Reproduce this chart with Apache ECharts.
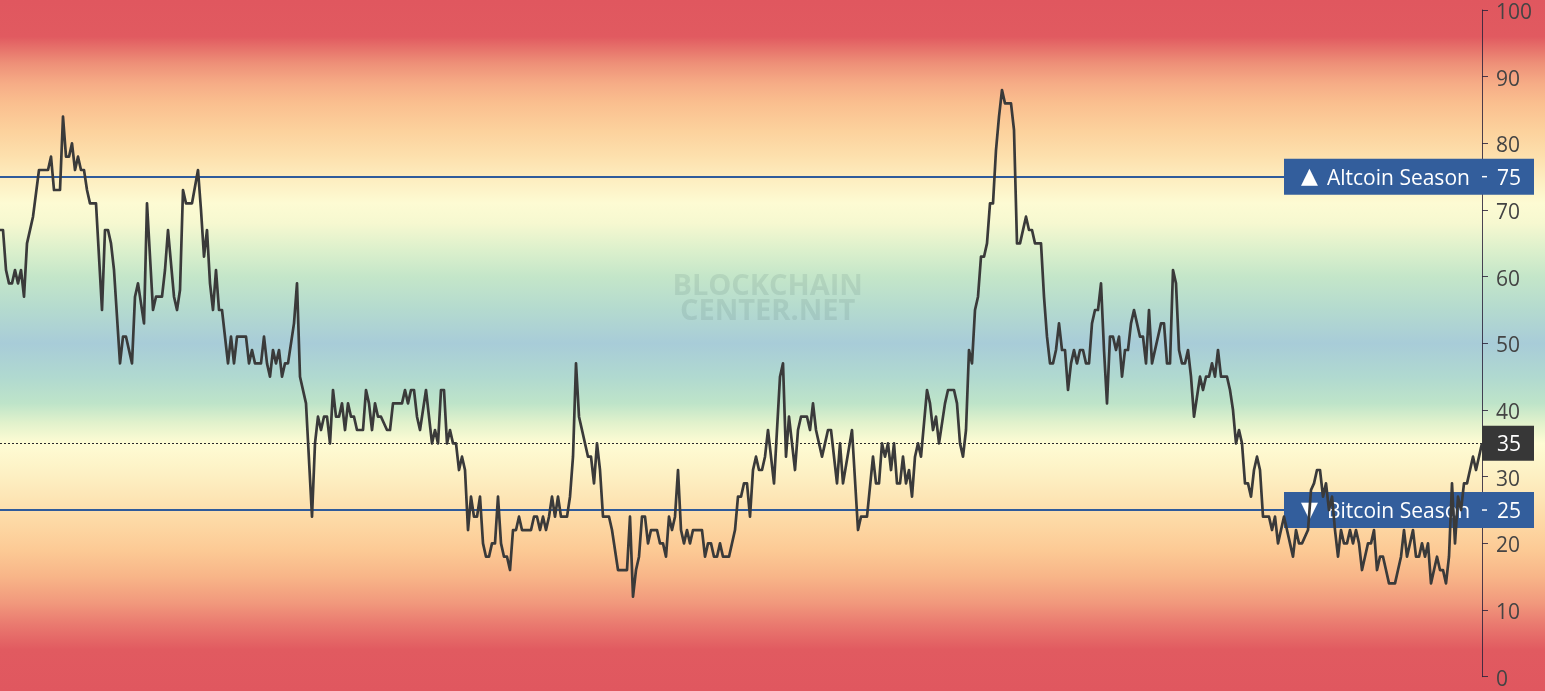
<!DOCTYPE html>
<html>
<head>
<meta charset="utf-8">
<script src="https://cdn.jsdelivr.net/npm/echarts@6/dist/echarts.min.js"></script>
<style>
html,body{margin:0;padding:0;overflow:hidden;background:#fff;}
#chart{width:1545px;height:691px;}
</style>
</head>
<body>
<div id="chart"></div>
<script>
// ---- data (day index since start, altcoin season index value) ----
const days = [0,1,2,3,4,5,6,7,8,9,11,13,16,17,18,20,21,22,23,24,25,26,27,28,29,30,32,34,35,36,37,38,40,41,42,44,45,46,48,49,51,52,54,55,56,58,59,60,61,62,64,66,67,68,69,70,71,72,73,74,76,77,78,79,82,83,84,85,87,88,89,90,91,92,93,94,95,96,98,99,100,102,104,105,106,107,108,109,110,111,112,113,114,115,116,117,118,119,121,122,123,124,125,126,127,129,130,131,134,135,136,137,138,139,140,142,144,145,146,147,148,149,150,151,152,153,154,155,156,157,158,159,160,161,162,163,164,165,166,167,168,169,170,171,172,173,174,177,178,179,180,181,182,183,184,185,186,187,189,190,191,192,193,194,196,197,198,199,200,201,203,204,206,209,210,211,212,213,214,215,216,217,219,220,221,222,223,224,225,226,227,228,229,230,231,234,235,236,237,238,239,240,241,243,245,246,247,248,249,250,251,252,253,254,255,256,257,258,260,261,262,263,265,266,267,269,270,271,272,274,275,276,277,279,280,281,284,286,287,289,291,292,293,294,295,296,297,298,299,300,301,302,303,304,305,306,307,309,310,311,312,313,315,316,318,319,320,321,322,323,324,325,326,327,328,329,330,331,332,333,334,335,337,338,339,340,342,343,344,345,347,348,349,350,351,352,353,354,355,356,357,358,359,360,361,362,363,364,365,366,367,368,369,370,371,372,373,374,375,376,377,378,379,380,381,382,383,384,386,387,388,389,390,391,392,393,394,395,396,397,398,399,400,401,402,403,404,405,406,407,409,410,411,412,413,414,415,416,417,418,419,420,421,423,424,425,426,427,428,429,430,431,432,433,434,436,437,438,439,440,441,442,443,444,445,446,447,448,449,450,451,452,453,454,455,456,457,458,459,460,461,462,463,465,466,467,468,469,470,471,472,473,474,475,476,477,478,479,480,481,482,483,484,485,486,487,488,489,490,491,492,494];
const values = [67,67,61,59,59,61,59,61,57,65,69,76,76,78,73,73,84,78,78,80,76,78,76,76,73,71,71,55,67,67,65,61,47,51,51,47,57,59,53,71,55,57,57,61,67,57,55,58,73,71,71,76,70,63,67,59,55,61,55,55,47,51,47,51,51,47,49,47,47,51,47,45,49,47,49,45,47,47,53,59,45,41,24,35,39,37,39,39,35,43,39,39,41,37,41,39,39,37,37,43,41,37,41,39,39,37,37,41,41,43,41,43,43,39,37,43,35,37,35,43,43,35,37,35,35,31,33,31,22,27,24,24,27,20,18,18,20,20,27,20,18,18,16,22,22,24,22,22,24,24,22,24,22,24,27,24,27,24,24,27,33,47,39,37,33,33,29,35,31,24,24,22,16,16,24,12,16,18,24,24,20,22,22,20,20,18,24,22,24,31,22,20,22,20,22,22,18,20,20,18,18,20,18,18,22,27,27,29,29,24,31,33,31,31,33,37,33,29,45,47,33,39,31,37,39,39,37,41,37,33,35,37,37,29,35,29,37,22,24,24,33,29,29,35,33,35,31,35,29,29,33,29,31,27,33,35,33,43,41,37,39,35,41,43,43,41,35,33,37,49,47,55,57,63,63,65,71,71,79,84,88,86,86,82,65,65,69,67,67,65,65,57,51,47,47,49,53,49,49,43,47,49,47,49,49,47,47,53,55,55,59,49,41,51,51,49,51,45,49,49,53,55,53,51,51,47,55,47,51,53,53,47,47,61,59,49,47,47,49,45,39,42,45,43,45,45,47,45,49,45,45,43,40,35,37,35,29,29,27,31,33,31,24,24,22,24,20,22,24,22,20,18,22,20,20,22,28,29,31,31,27,29,25,27,22,18,22,20,20,22,20,22,20,16,18,20,20,22,16,18,18,16,14,14,16,18,22,18,20,22,18,18,20,18,20,14,16,18,16,16,14,18,29,20,27,25,29,29,31,33,31,35];
const yTickValues = [0,10,20,30,40,50,60,70,80,90,100];
const altcoinLevel = 75;
const bitcoinLevel = 25;
const currentValue = 35;
const altcoinText = 'Altcoin Season';
const bitcoinText = 'Bitcoin Season';
const altcoinMark = '▲';
const bitcoinMark = '▼';
const watermarkLines = ['BLOCKCHAIN', 'CENTER.NET'];

// ---- styles ----
const FONT = '"Open Sans", "Liberation Sans", sans-serif';
const bgStops = [
  [101.5,'#e0575f'],[96,'#e15a60'],[92,'#ee9078'],[89,'#f6ac86'],[86,'#fabf8f'],[82,'#fcd19c'],
  [78,'#fde0ad'],[75,'#fdecbe'],[71,'#fdfbd3'],[68,'#f6f8d0'],[64,'#dcf0cc'],[60,'#c4e6c9'],
  [55,'#b4dacf'],[50,'#a8ccd8'],[45,'#b0d9d0'],[41,'#bee4c9'],[38,'#e2f2cc'],[35,'#fefcd4'],
  [31,'#fdf2c6'],[27,'#fde6b6'],[23,'#fdd8a4'],[19,'#fcca95'],[15,'#f8b588'],[11,'#f1987c'],
  [8,'#ea7b70'],[4,'#e15a60'],[-2.2,'#e0575f']
];
const AXIS_COLOR = 'rgba(45,35,60,0.85)';
const LABEL_COLOR = '#444444';

const chart = echarts.init(document.getElementById('chart'), null, {renderer:'canvas'});
const lineData = days.map((d, i) => [d, values[i]]);

const option = {
  animation: false,
  grid: {left: 0, right: 63, top: 10, bottom: 14.3, containLabel: false},
  xAxis: {type: 'value', min: 0, max: days[days.length - 1], show: false},
  yAxis: {
    type: 'value', position: 'right', min: yTickValues[0], max: yTickValues[yTickValues.length - 1], interval: 10,
    axisLine: {show: true, onZero: false, lineStyle: {color: AXIS_COLOR, width: 1}},
    axisTick: {show: true, length: 6, lineStyle: {color: AXIS_COLOR}},
    axisLabel: {
      margin: 14,
      formatter: v => '{a|' + v + '}',
      rich: {a: {color: LABEL_COLOR, fontSize: 21, fontFamily: FONT, padding: [6, 0, 0, 0]}}
    },
    splitLine: {show: false}
  },
  series: [
    {type: 'line', id: 'refs', data: lineData, z: 1, symbol: 'none', silent: true, lineStyle: {opacity: 0}},
    {type: 'line', id: 'main', data: lineData, z: 5, symbol: 'none', smooth: false,
      lineStyle: {color: '#3a3a3a', width: 2.7, join: 'round'}}
  ]
};
chart.setOption(option);

function buildOverlays() {
  const W = chart.getWidth(), H = chart.getHeight();
  const yPx = v => chart.convertToPixel({yAxisIndex: 0}, v);
  const lastDay = days[days.length - 1];
  const axisX = chart.convertToPixel({xAxisIndex: 0}, lastDay);
  const boxL = 1284, boxR = 1534, valX = axisX + 15, dy = 2;
  const boxDay = chart.convertFromPixel({xAxisIndex: 0}, boxL);
  const blue = {color: '#2f5b9b', width: 2, type: 'solid'};
  const markLine = {
    silent: true, symbol: ['none', 'none'], label: {show: false},
    data: [
      [{coord: [0, altcoinLevel], lineStyle: blue}, {coord: [boxDay, altcoinLevel]}],
      [{coord: [0, bitcoinLevel], lineStyle: blue}, {coord: [boxDay, bitcoinLevel]}],
      [{coord: [0, currentValue], lineStyle: {color: '#2a2a2a', width: 1, type: [2, 2]}}, {coord: [lastDay, currentValue]}]
    ]
  };
  const stops = bgStops.map(([v, c]) => ({offset: Math.min(1, Math.max(0, yPx(v) / H)), color: c}));
  stops.sort((a, b) => a.offset - b.offset);
  const els = [];
  els.push({type: 'rect', z: -10, silent: true, shape: {x: 0, y: 0, width: W, height: H},
    style: {fill: new echarts.graphic.LinearGradient(0, 0, 0, 1, stops)}});
  const wmX = axisX * 0.518;
  const wmY = yPx(58.5);
  watermarkLines.forEach((t, i) => {
    els.push({type: 'text', z: -5, silent: true, x: wmX, y: wmY + i * 25,
      style: {text: t, fill: 'rgba(70,100,100,0.13)', font: 'bold 29px ' + FONT, align: 'center', verticalAlign: 'middle'}});
  });
  function seasonBox(level, mark, text) {
    const y = yPx(level);
    els.push({type: 'rect', z: 3, silent: true, shape: {x: boxL, y: y - 18, width: boxR - boxL, height: 36},
      style: {fill: '#335e9c'}});
    els.push({type: 'text', z: 3, silent: true, x: boxL + 17, y: y + 1,
      style: {text: mark, fill: '#ffffff', font: '22px "DejaVu Sans", sans-serif', verticalAlign: 'middle'}});
    els.push({type: 'text', z: 3, silent: true, x: boxL + 43, y: y + dy,
      style: {text: text, fill: '#ffffff', font: '21px ' + FONT, verticalAlign: 'middle'}});
    els.push({type: 'line', z: 3, silent: true, shape: {x1: axisX, y1: y, x2: axisX + 5, y2: y},
      style: {stroke: '#ffffff', lineWidth: 1.5}});
    els.push({type: 'text', z: 3, silent: true, x: valX, y: y + dy,
      style: {text: String(level), fill: '#ffffff', font: '21px ' + FONT, verticalAlign: 'middle'}});
  }
  seasonBox(altcoinLevel, altcoinMark, altcoinText);
  seasonBox(bitcoinLevel, bitcoinMark, bitcoinText);
  const yc = yPx(currentValue);
  els.push({type: 'rect', z: 3, silent: true, shape: {x: axisX, y: yc - 17.5, width: boxR - axisX, height: 35},
    style: {fill: '#373737'}});
  els.push({type: 'text', z: 3, silent: true, x: valX, y: yc + dy,
    style: {text: String(currentValue), fill: '#ffffff', font: '21px ' + FONT, verticalAlign: 'middle'}});
  chart.setOption({series: [{id: 'refs', markLine: markLine}], graphic: {elements: els}});
}
buildOverlays();
</script>
</body>
</html>
